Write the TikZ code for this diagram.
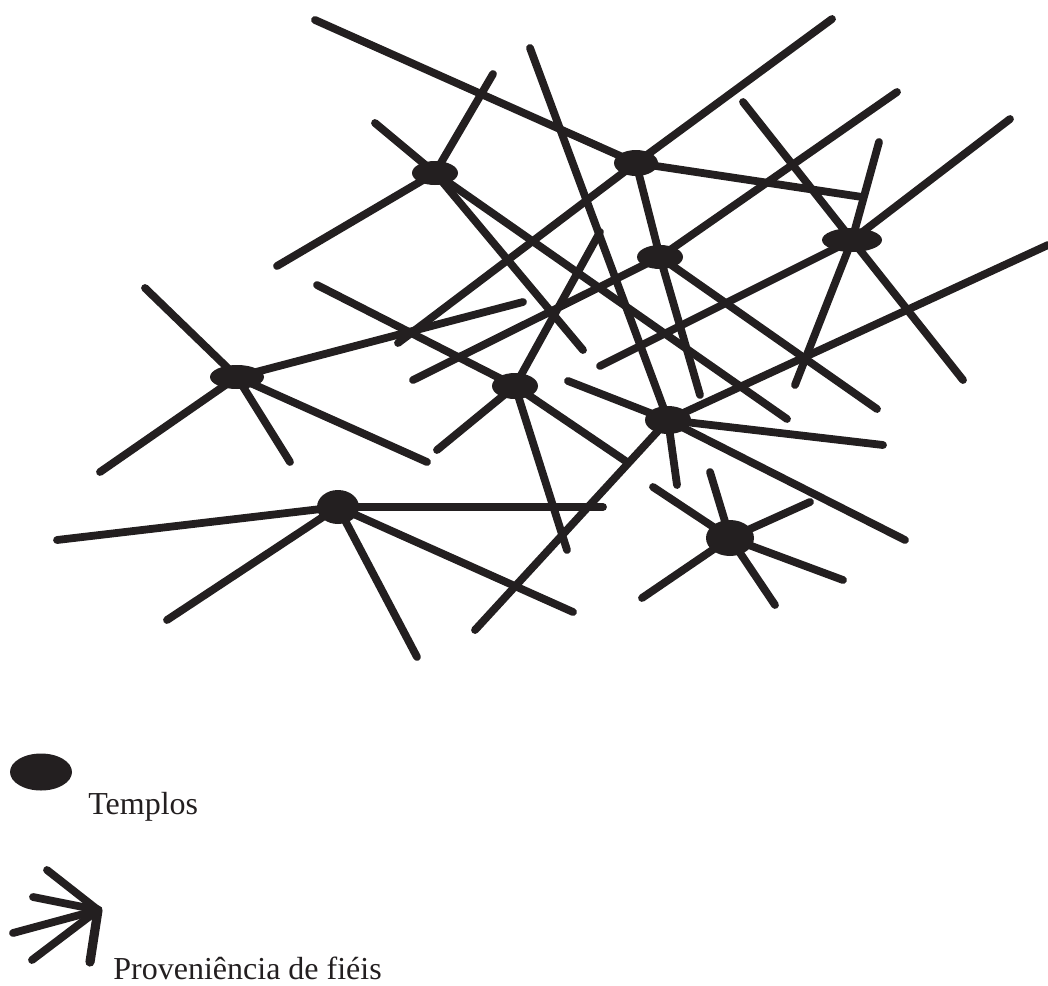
\documentclass[tikz,border=0pt]{standalone}
\usepackage{fontspec}
\setmainfont{Liberation Serif}
\usetikzlibrary{shapes.geometric}
\definecolor{inkcol}{RGB}{35,31,32}
\tikzset{
  ray/.style={draw=inkcol,line width=3.9pt,line cap=round},
  temple/.style={ellipse,fill=inkcol,draw=none,inner sep=0pt},
  lbl/.style={font=\fontsize{16}{19}\selectfont,text=inkcol,anchor=base west,inner sep=0pt},
}

\begin{document}
\begin{tikzpicture}[x=0.5pt,y=-0.5pt]
  \useasboundingbox (0,0) rectangle (1048,985);
  % temples
  \node[temple,minimum width=23pt,minimum height=12pt] (t1) at (435,173) {};
  \node[temple,minimum width=22pt,minimum height=13pt] (t2) at (636,163) {};
  \node[temple,minimum width=23pt,minimum height=12pt] (t3) at (660,257) {};
  \node[temple,minimum width=30pt,minimum height=12pt] (t4) at (852,240) {};
  \node[temple,minimum width=27pt,minimum height=12pt] (t5) at (237,377) {};
  \node[temple,minimum width=23pt,minimum height=13pt] (t6) at (515,386) {};
  \node[temple,minimum width=23pt,minimum height=14pt] (t7) at (668,420) {};
  \node[temple,minimum width=21pt,minimum height=17pt] (t8) at (338,507) {};
  \node[temple,minimum width=24pt,minimum height=18pt] (t9) at (730,538) {};
  % free ends of the rays
  \coordinate (t1a) at (493,74);
  \coordinate (t1b) at (375,123);
  \coordinate (t1c) at (277,266);
  \coordinate (t1d) at (583,350);
  \coordinate (t1e) at (787,419);
  \coordinate (t2a) at (315,20);
  \coordinate (t2b) at (832,19);
  \coordinate (t2c) at (862,197);
  \coordinate (t2d) at (700,395);
  \coordinate (t2e) at (398,343);
  \coordinate (t3a) at (897,92);
  \coordinate (t3b) at (413,380);
  \coordinate (t3c) at (877,409);
  \coordinate (t4a) at (743,102);
  \coordinate (t4b) at (879,142);
  \coordinate (t4c) at (1010,119);
  \coordinate (t4d) at (600,366);
  \coordinate (t4e) at (963,380);
  \coordinate (t4f) at (795,385);
  \coordinate (t5a) at (145,288);
  \coordinate (t5b) at (523,302);
  \coordinate (t5c) at (100,472);
  \coordinate (t5d) at (290,462);
  \coordinate (t5e) at (427,462);
  \coordinate (t6a) at (317,285);
  \coordinate (t6b) at (600,232);
  \coordinate (t6c) at (437,450);
  \coordinate (t6d) at (567,550);
  \coordinate (t6e) at (627,462);
  \coordinate (t7a) at (530,48);
  \coordinate (t7b) at (677,485);
  \coordinate (t7c) at (568,381);
  \coordinate (t7d) at (883,445);
  \coordinate (t7e) at (905,540);
  \coordinate (t7f) at (475,630);
  \coordinate (t7g) at (1048,245);
  \coordinate (t8a) at (57,540);
  \coordinate (t8b) at (167,620);
  \coordinate (t8c) at (417,657);
  \coordinate (t8d) at (573,612);
  \coordinate (t8e) at (603,507);
  \coordinate (t9a) at (653,487);
  \coordinate (t9b) at (710,472);
  \coordinate (t9c) at (810,502);
  \coordinate (t9d) at (843,580);
  \coordinate (t9e) at (775,605);
  \coordinate (t9f) at (642,598);
  % rays
  \draw[ray] (t1.center) -- (t1a);
  \draw[ray] (t1.center) -- (t1b);
  \draw[ray] (t1.center) -- (t1c);
  \draw[ray] (t1.center) -- (t1d);
  \draw[ray] (t1.center) -- (t1e);
  \draw[ray] (t2.center) -- (t2a);
  \draw[ray] (t2.center) -- (t2b);
  \draw[ray] (t2.center) -- (t2c);
  \draw[ray] (t2.center) -- (t3.center) -- (t2d);
  \draw[ray] (t2.center) -- (t2e);
  \draw[ray] (t3.center) -- (t3a);
  \draw[ray] (t3.center) -- (t3b);
  \draw[ray] (t3.center) -- (t3c);
  \draw[ray] (t4.center) -- (t4a);
  \draw[ray] (t4.center) -- (t4b);
  \draw[ray] (t4.center) -- (t4c);
  \draw[ray] (t4.center) -- (t4d);
  \draw[ray] (t4.center) -- (t4e);
  \draw[ray] (t4.center) -- (t4f);
  \draw[ray] (t5.center) -- (t5a);
  \draw[ray] (t5.center) -- (t5b);
  \draw[ray] (t5.center) -- (t5c);
  \draw[ray] (t5.center) -- (t5d);
  \draw[ray] (t5.center) -- (t5e);
  \draw[ray] (t6.center) -- (t6a);
  \draw[ray] (t6.center) -- (t6b);
  \draw[ray] (t6.center) -- (t6c);
  \draw[ray] (t6.center) -- (t6d);
  \draw[ray] (t6.center) -- (t6e);
  \draw[ray] (t7a) -- (t7.center) -- (t7b);
  \draw[ray] (t7.center) -- (t7c);
  \draw[ray] (t7.center) -- (t7d);
  \draw[ray] (t7.center) -- (t7e);
  \draw[ray] (t7.center) -- (t7f);
  \draw[ray] (t7.center) -- (t7g);
  \draw[ray] (t8.center) -- (t8a);
  \draw[ray] (t8.center) -- (t8b);
  \draw[ray] (t8.center) -- (t8c);
  \draw[ray] (t8.center) -- (t8d);
  \draw[ray] (t8.center) -- (t8e);
  \draw[ray] (t9.center) -- (t9a);
  \draw[ray] (t9.center) -- (t9b);
  \draw[ray] (t9.center) -- (t9c);
  \draw[ray] (t9.center) -- (t9d);
  \draw[ray] (t9.center) -- (t9e);
  \draw[ray] (t9.center) -- (t9f);
  % legend
  \node[temple,minimum width=31pt,minimum height=18.5pt] (lgtemple) at (41,772) {};
  \node[lbl] (lgtemplos) at (88,814) {Templos};
  \coordinate (lgc) at (98,910);
  \coordinate (lga) at (47,870);
  \coordinate (lgb) at (33,897);
  \coordinate (lgd) at (13,933);
  \coordinate (lge) at (32,960);
  \coordinate (lgf) at (90,962);
  \draw[ray] (lgc) -- (lga);
  \draw[ray] (lgc) -- (lgb);
  \draw[ray] (lgc) -- (lgd);
  \draw[ray] (lgc) -- (lge);
  \draw[ray,line width=4.6pt] (lgc) -- (lgf);
  \node[lbl] (lgfieis) at (113,979) {Proveniência de fiéis};
\end{tikzpicture}
\end{document}
